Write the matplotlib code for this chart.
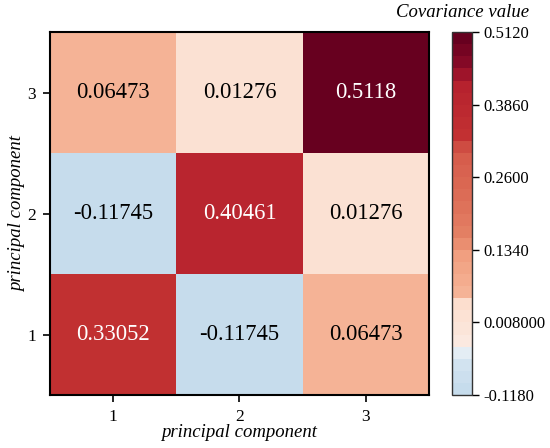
import numpy as np
import matplotlib
matplotlib.use("Agg")
import matplotlib.pyplot as plt
from matplotlib.colors import LinearSegmentedColormap, ListedColormap

# covariance matrix of the principal components (row 0 = component 1)
components = [1, 2, 3]
cov = [
    [0.33052, -0.11745, 0.06473],
    [-0.11745, 0.40461, 0.01276],
    [0.06473, 0.01276, 0.5118],
]
cell_labels = [
    ["0.33052", "-0.11745", "0.06473"],
    ["-0.11745", "0.40461", "0.01276"],
    ["0.06473", "0.01276", "0.5118"],
]
cbar_min, cbar_max = -0.118, 0.512
cbar_labels = ["-0.1180", "0.008000", "0.1340", "0.2600", "0.3860", "0.5120"]

plt.rcParams["font.family"] = ["Liberation Serif", "DejaVu Serif"]

# red/blue map (light blue bottom, dark red top)
anchors = [
    (0.00, "#c6dcec"), (0.09, "#d6e6f1"), (0.11, "#eef2f6"),
    (0.135, "#fbe9e0"), (0.255, "#fcdccb"), (0.275, "#f5b295"),
    (0.40, "#f09c7c"), (0.42, "#e58467"), (0.55, "#dc6c56"),
    (0.68, "#d45a4a"), (0.71, "#c33232"), (0.88, "#b5202e"),
    (0.91, "#8e0c28"), (1.00, "#67001f"),
]
smooth = LinearSegmentedColormap.from_list("cov_map", anchors)
cmap = ListedColormap(smooth(np.linspace(0, 1, 30)))

fig = plt.figure(figsize=(5.5, 4.48), dpi=100)
ax = fig.add_axes([0.0909, 0.1183, 0.689, 0.810])
cax = fig.add_axes([0.822, 0.1183, 0.0364, 0.810])

data = np.array(cov)
im = ax.imshow(data, cmap=cmap, vmin=cbar_min, vmax=cbar_max,
               origin="lower", aspect="auto")

for i in range(len(components)):
    for j in range(len(components)):
        val = data[i, j]
        color = "white" if val > 0.3 else "black"
        ax.text(j, i, cell_labels[i][j], ha="center", va="center",
                fontsize=16.3, color=color)

ax.set_xticks(range(len(components)))
ax.set_xticklabels(components)
ax.set_yticks(range(len(components)))
ax.set_yticklabels(components)
ax.tick_params(labelsize=12.5, length=5, width=1.2, pad=5)
for sp in ax.spines.values():
    sp.set_linewidth(1.5)
ax.set_xlabel("principal component", fontsize=13.5, style="italic", labelpad=-1)
ax.set_ylabel("principal component", fontsize=13.5, style="italic", labelpad=1)

cb = fig.colorbar(im, cax=cax)
cb.set_ticks(np.linspace(cbar_min, cbar_max, 6))
cb.set_ticklabels(cbar_labels)
cb.ax.tick_params(labelsize=12, length=5, width=1.0, pad=3)
cb.outline.set_linewidth(1.0)
cb.outline.set_edgecolor("#333333")
cax.set_title("Covariance value", fontsize=13.5, style="italic", pad=11)

fig.savefig("out.png", dpi=100)
